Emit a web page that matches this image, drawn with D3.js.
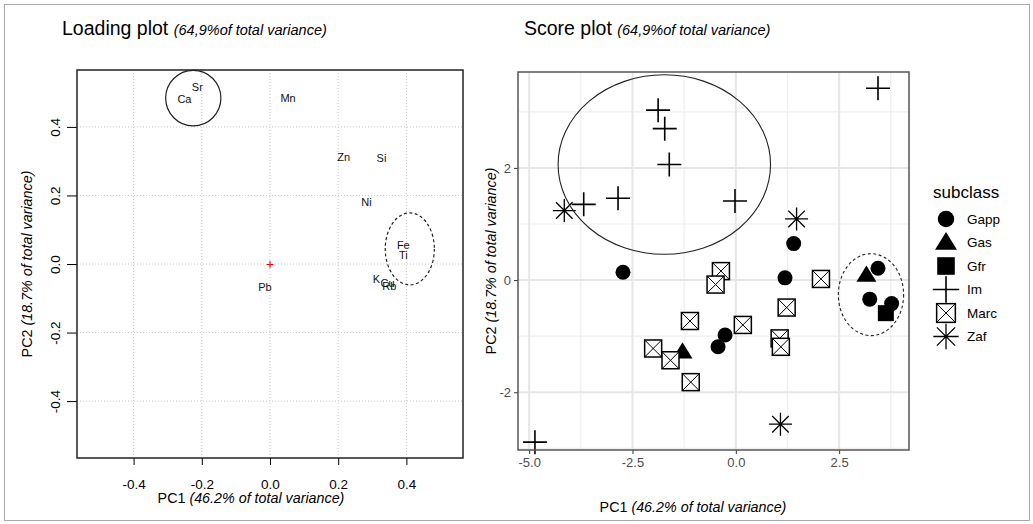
<!DOCTYPE html>
<html>
<head>
<meta charset="utf-8">
<script src="https://cdn.jsdelivr.net/npm/d3@7"></script>
<style>
  body { margin: 0; background: #fff; }
  svg { font-family: "Liberation Sans", Arial, sans-serif; }
</style>
</head>
<body>
<svg id="chart" width="1033" height="524"></svg>
<script>
// loading plot data
var loadNames = ["Ca", "Sr", "Mn", "Zn", "Si", "Ni", "Fe", "Ti", "K", "Cu", "Rb", "Pb"];
var loadPC1 = [-0.251, -0.213, 0.053, 0.216, 0.327, 0.283, 0.391, 0.391, 0.312, 0.345, 0.350, -0.015];
var loadPC2 = [0.481, 0.516, 0.484, 0.312, 0.309, 0.181, 0.055, 0.026, -0.044, -0.055, -0.064, -0.067];
var loadTicks = [-0.4, -0.2, 0.0, 0.2, 0.4];

// score plot data
var subclasses = ["Gapp", "Gas", "Gfr", "Im", "Marc", "Zaf"];
var scoreClass = ["Gapp","Gapp","Gapp","Gapp","Gapp","Gapp","Gapp","Gapp",
                  "Gas","Gas","Gfr",
                  "Im","Im","Im","Im","Im","Im","Im","Im",
                  "Marc","Marc","Marc","Marc","Marc","Marc","Marc","Marc","Marc","Marc","Marc",
                  "Zaf","Zaf","Zaf"];
var scorePC1 = [-2.73, 1.40, 1.19, -0.26, -0.43, 3.44, 3.24, 3.77,
                -1.29, 3.16, 3.63,
                -4.86, 3.44, -1.88, -1.72, -1.61, -2.85, -3.68, -0.02,
                -0.36, -0.49, 2.06, 1.23, -1.11, 0.17, 1.06, 1.09, -2.00, -1.58, -1.09,
                -4.15, 1.47, 1.08];
var scorePC2 = [0.14, 0.65, 0.04, -0.98, -1.19, 0.21, -0.34, -0.42,
                -1.28, 0.09, -0.59,
                -2.89, 3.42, 3.03, 2.70, 2.06, 1.46, 1.35, 1.41,
                0.16, -0.08, 0.02, -0.49, -0.73, -0.80, -1.04, -1.19, -1.22, -1.43, -1.82,
                1.24, 1.09, -2.57];
var scoreXTicks = [-5.0, -2.5, 0.0, 2.5];
var scoreYTicks = [-2, 0, 2];
var scoreXMinor = [-3.75, -1.25, 1.25, 3.75];
var scoreYMinor = [-3, -1, 1, 3];

var svg = d3.select("#chart");

// outer frame
svg.append("rect").attr("x", 4.5).attr("y", 4.5).attr("width", 1025).attr("height", 516)
    .attr("fill", "none").attr("stroke", "#aaa").attr("stroke-width", 1);

// ---------- Loading plot ----------
var L = {left: 77, right: 463, top: 70, bottom: 458};
var lx = d3.scaleLinear().domain([-0.566, 0.566]).range([L.left, L.right]);
var ly = d3.scaleLinear().domain([-0.566, 0.566]).range([L.bottom, L.top]);

var lg = svg.append("g");
// dotted grid
lg.selectAll("line.gx").data(loadTicks).enter().append("line")
    .attr("x1", d => lx(d)).attr("x2", d => lx(d)).attr("y1", L.top).attr("y2", L.bottom)
    .attr("stroke", "#c8c8c8").attr("stroke-dasharray", "1,2");
lg.selectAll("line.gy").data(loadTicks).enter().append("line")
    .attr("y1", d => ly(d)).attr("y2", d => ly(d)).attr("x1", L.left).attr("x2", L.right)
    .attr("stroke", "#c8c8c8").attr("stroke-dasharray", "1,2");

var lxAxis = d3.axisBottom(lx).tickValues(loadTicks).tickFormat(d => d.toFixed(1)).tickSize(7).tickPadding(14);
var lyAxis = d3.axisLeft(ly).tickValues(loadTicks).tickFormat(d => d.toFixed(1)).tickSize(10);

var gx = lg.append("g").attr("transform", "translate(0," + L.bottom + ")").call(lxAxis);
gx.select(".domain").remove();
gx.selectAll("text").attr("font-size", 13.5).attr("fill", "#000");
gx.selectAll("line").attr("stroke", "#000");

var gy = lg.append("g").attr("transform", "translate(" + L.left + ",0)").call(lyAxis);
gy.select(".domain").remove();
gy.selectAll("line").attr("stroke", "#000");
gy.selectAll("text").attr("font-size", 13.5).attr("fill", "#000")
    .attr("x", 0).attr("dy", 0)
    .attr("text-anchor", "middle")
    .attr("transform", "translate(-22,0) rotate(-90)")
    .attr("y", 0).attr("dominant-baseline", "central");

lg.append("rect").attr("x", L.left).attr("y", L.top).attr("width", L.right - L.left).attr("height", L.bottom - L.top)
    .attr("fill", "none").attr("stroke", "#222").attr("stroke-width", 1.5);

// origin marker
lg.append("text").attr("x", lx(0)).attr("y", ly(0)).attr("text-anchor", "middle")
    .attr("dominant-baseline", "central").attr("fill", "red").attr("font-size", 14).text("+");

// variable labels
lg.selectAll("text.lab").data(loadNames).enter().append("text")
    .attr("x", (d, i) => lx(loadPC1[i])).attr("y", (d, i) => ly(loadPC2[i]))
    .attr("text-anchor", "middle").attr("dominant-baseline", "central")
    .attr("font-size", 11).attr("fill", "#111").text(d => d);

// highlight ellipses
lg.append("ellipse").attr("cx", lx(-0.225)).attr("cy", ly(0.484))
    .attr("rx", lx(-0.225 + 0.081) - lx(-0.225)).attr("ry", ly(0.484) - ly(0.484 + 0.081))
    .attr("fill", "none").attr("stroke", "#222").attr("stroke-width", 1.2);
lg.append("ellipse").attr("cx", lx(0.41)).attr("cy", ly(0.044))
    .attr("rx", lx(0.41 + 0.072) - lx(0.41)).attr("ry", ly(0.044) - ly(0.044 + 0.105))
    .attr("fill", "none").attr("stroke", "#222").attr("stroke-width", 1.2).attr("stroke-dasharray", "3,2.5");

// titles
var t1 = lg.append("text").attr("x", 62).attr("y", 35).attr("fill", "#000");
t1.append("tspan").attr("font-size", 19.5).text("Loading plot ");
t1.append("tspan").attr("font-size", 14.5).attr("font-style", "italic").text("(64,9%of total variance)");

var xt1 = lg.append("text").attr("x", 251).attr("y", 503).attr("text-anchor", "middle").attr("font-size", 14.3);
xt1.append("tspan").text("PC1 ");
xt1.append("tspan").attr("font-style", "italic").text("(46.2% of total variance)");
var yt1 = lg.append("text").attr("transform", "translate(32," + ly(0) + ") rotate(-90)")
    .attr("text-anchor", "middle").attr("font-size", 14.3);
yt1.append("tspan").text("PC2 ");
yt1.append("tspan").attr("font-style", "italic").text("(18.7% of total variance)");

// ---------- Score plot ----------
var S = {left: 518, right: 909, top: 72, bottom: 450};
var sx = d3.scaleLinear().domain([-5.27, 4.19]).range([S.left, S.right]);
var sy = d3.scaleLinear().domain([-3.03, 3.71]).range([S.bottom, S.top]);

var sg = svg.append("g");
sg.selectAll("line.mx").data(scoreXMinor).enter().append("line")
    .attr("x1", d => sx(d)).attr("x2", d => sx(d)).attr("y1", S.top).attr("y2", S.bottom)
    .attr("stroke", "#efefef").attr("stroke-width", 1.2);
sg.selectAll("line.my").data(scoreYMinor).enter().append("line")
    .attr("y1", d => sy(d)).attr("y2", d => sy(d)).attr("x1", S.left).attr("x2", S.right)
    .attr("stroke", "#efefef").attr("stroke-width", 1.2);
sg.selectAll("line.Mx").data(scoreXTicks).enter().append("line")
    .attr("x1", d => sx(d)).attr("x2", d => sx(d)).attr("y1", S.top).attr("y2", S.bottom)
    .attr("stroke", "#e6e6e6").attr("stroke-width", 2);
sg.selectAll("line.My").data(scoreYTicks).enter().append("line")
    .attr("y1", d => sy(d)).attr("y2", d => sy(d)).attr("x1", S.left).attr("x2", S.right)
    .attr("stroke", "#e6e6e6").attr("stroke-width", 2);

var sxAxis = d3.axisBottom(sx).tickValues(scoreXTicks).tickFormat(d => d.toFixed(1)).tickSize(4).tickPadding(4);
var syAxis = d3.axisLeft(sy).tickValues(scoreYTicks).tickFormat(d => String(d)).tickSize(4).tickPadding(3);
var sgx = sg.append("g").attr("transform", "translate(0," + S.bottom + ")").call(sxAxis);
sgx.select(".domain").remove();
sgx.selectAll("line").attr("stroke", "#333");
sgx.selectAll("text").attr("font-size", 13).attr("fill", "#4d4d4d");
var sgy = sg.append("g").attr("transform", "translate(" + S.left + ",0)").call(syAxis);
sgy.select(".domain").remove();
sgy.selectAll("line").attr("stroke", "#333");
sgy.selectAll("text").attr("font-size", 13).attr("fill", "#4d4d4d");

// symbols
function drawShape(g, cls, px, py, k) {
  k = k || 1;
  if (cls === "Gapp") {
    g.append("circle").attr("cx", px).attr("cy", py).attr("r", 7.5 * k).attr("fill", "#000");
  } else if (cls === "Gas") {
    var s = 9.5 * k;
    g.append("path").attr("d", "M" + px + "," + (py - s) + "L" + (px + s * 1.05) + "," + (py + s * 0.7) +
      "L" + (px - s * 1.05) + "," + (py + s * 0.7) + "Z").attr("fill", "#000");
  } else if (cls === "Gfr") {
    var h = 8 * k;
    g.append("rect").attr("x", px - h).attr("y", py - h).attr("width", 2 * h).attr("height", 2 * h).attr("fill", "#000");
  } else if (cls === "Im") {
    var p = 12 * k;
    g.append("path").attr("d", "M" + (px - p) + "," + py + "H" + (px + p) + "M" + px + "," + (py - p) + "V" + (py + p))
      .attr("stroke", "#000").attr("stroke-width", 1.6);
  } else if (cls === "Marc") {
    var q = 8.5 * k;
    g.append("rect").attr("x", px - q).attr("y", py - q).attr("width", 2 * q).attr("height", 2 * q)
      .attr("fill", "#fff").attr("stroke", "#000").attr("stroke-width", 1.5);
    g.append("path").attr("d", "M" + (px - q) + "," + (py - q) + "L" + (px + q) + "," + (py + q) +
      "M" + (px + q) + "," + (py - q) + "L" + (px - q) + "," + (py + q))
      .attr("stroke", "#000").attr("stroke-width", 1);
  } else if (cls === "Zaf") {
    var a = 11.5 * k, b = a * 0.72;
    g.append("path").attr("d", "M" + (px - a) + "," + py + "H" + (px + a) + "M" + px + "," + (py - a) + "V" + (py + a) +
      "M" + (px - b) + "," + (py - b) + "L" + (px + b) + "," + (py + b) +
      "M" + (px + b) + "," + (py - b) + "L" + (px - b) + "," + (py + b))
      .attr("stroke", "#000").attr("stroke-width", 1.3);
  }
}

var pts = sg.append("g");
scoreClass.forEach(function (c, i) {
  drawShape(pts, c, sx(scorePC1[i]), sy(scorePC2[i]));
});

// group ellipses
sg.append("ellipse").attr("cx", sx(-1.73)).attr("cy", sy(2.06))
    .attr("rx", sx(-1.73 + 2.57) - sx(-1.73)).attr("ry", sy(2.06) - sy(2.06 + 1.60))
    .attr("fill", "none").attr("stroke", "#222").attr("stroke-width", 1.1);
sg.append("ellipse").attr("cx", sx(3.27)).attr("cy", sy(-0.26))
    .attr("rx", sx(3.27 + 0.79) - sx(3.27)).attr("ry", sy(-0.26) - sy(-0.26 + 0.73))
    .attr("fill", "none").attr("stroke", "#222").attr("stroke-width", 1.1).attr("stroke-dasharray", "3,2.5");

sg.append("rect").attr("x", S.left).attr("y", S.top).attr("width", S.right - S.left).attr("height", S.bottom - S.top)
    .attr("fill", "none").attr("stroke", "#555").attr("stroke-width", 1.5);

var t2 = sg.append("text").attr("x", 524).attr("y", 35).attr("fill", "#000");
t2.append("tspan").attr("font-size", 19.5).text("Score plot ");
t2.append("tspan").attr("font-size", 14.5).attr("font-style", "italic").text("(64,9%of total variance)");

var xt2 = sg.append("text").attr("x", 693).attr("y", 512).attr("text-anchor", "middle").attr("font-size", 14.3);
xt2.append("tspan").text("PC1 ");
xt2.append("tspan").attr("font-style", "italic").text("(46.2% of total variance)");
var yt2 = sg.append("text").attr("transform", "translate(496," + ((S.top + S.bottom) / 2) + ") rotate(-90)")
    .attr("text-anchor", "middle").attr("font-size", 14.3);
yt2.append("tspan").text("PC2 ");
yt2.append("tspan").attr("font-style", "italic").text("(18.7% of total variance)");

// legend
var leg = svg.append("g");
leg.append("text").attr("x", 933).attr("y", 198).attr("font-size", 17).text("subclass");
var ly0 = 219, ldy = 23.5;
subclasses.forEach(function (c, i) {
  var yy = ly0 + i * ldy;
  drawShape(leg, c, 946, yy, 1.1);
  leg.append("text").attr("x", 967).attr("y", yy).attr("dominant-baseline", "central")
    .attr("font-size", 13.5).text(c);
});
</script>
</body>
</html>
